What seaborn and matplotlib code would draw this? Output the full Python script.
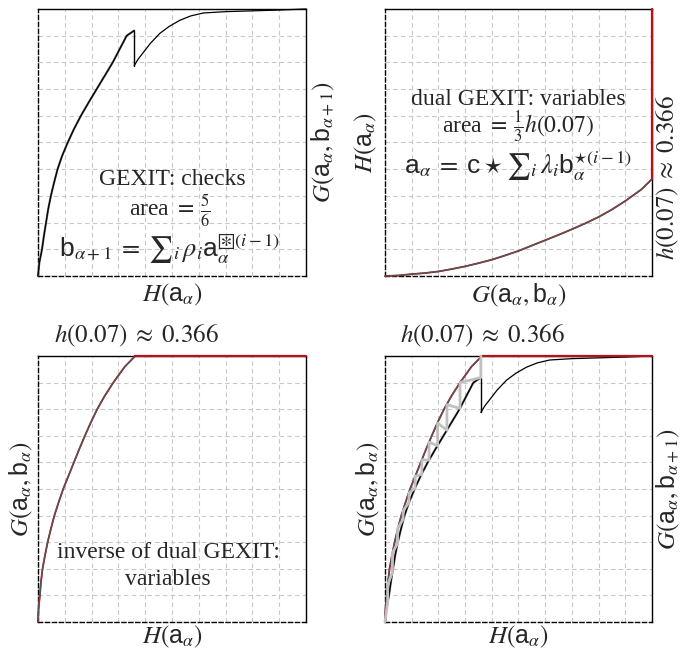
import numpy as np
import pandas as pd
import matplotlib
matplotlib.use("Agg")
import matplotlib.pyplot as plt
import seaborn as sns

# ---------------- data ----------------
# GEXIT curve of the check nodes: x = H(a), y = G(a, b_{alpha+1})
check_H_rise = [0.0, 0.005, 0.015, 0.022, 0.030, 0.038, 0.048, 0.060, 0.073, 0.090, 0.111,
                0.134, 0.160, 0.189, 0.219, 0.249, 0.279, 0.305, 0.331, 0.359]
check_G_rise = [0.0, 0.05, 0.10, 0.15, 0.20, 0.25, 0.30, 0.35, 0.40, 0.45, 0.50,
                0.55, 0.60, 0.65, 0.70, 0.75, 0.80, 0.85, 0.90, 0.919]
check_H_tail = [0.359, 0.375, 0.393, 0.42, 0.455, 0.49, 0.53, 0.57, 0.617, 0.70, 0.80, 0.90, 1.0]
check_G_tail = [0.788, 0.814, 0.837, 0.872, 0.909, 0.935, 0.958, 0.974, 0.985, 0.99, 0.993, 0.996, 1.0]

# dual GEXIT curve of the variable nodes: x = G(a, b), y = H(a)
dual_G = [0.0, 0.05, 0.10, 0.15, 0.20, 0.25, 0.30, 0.35, 0.40, 0.45, 0.50, 0.55,
          0.60, 0.65, 0.70, 0.75, 0.80, 0.85, 0.90, 0.96, 1.0]
dual_H = [0.0, 0.002, 0.007, 0.011, 0.017, 0.026, 0.036, 0.048, 0.061, 0.077, 0.094, 0.114,
          0.134, 0.154, 0.175, 0.197, 0.221, 0.249, 0.281, 0.324, 0.363]

# threshold segment h(0.07) ~ 0.366 -> 1
thresh_seg = [0.363, 1.0]

# decoding staircase (x = H(a), y = G)
stair_H = [0.359, 0.359, 0.281, 0.281, 0.232, 0.232, 0.197, 0.197, 0.165, 0.165,
           0.138, 0.138, 0.113, 0.113, 0.090, 0.090, 0.068, 0.068, 0.047, 0.047,
           0.028, 0.028, 0.010, 0.010, 0.0]
stair_G = [1.0, 0.919, 0.90, 0.803, 0.817, 0.721, 0.748, 0.663, 0.676, 0.608,
           0.61, 0.555, 0.548, 0.503, 0.485, 0.45, 0.418, 0.387, 0.35, 0.295,
           0.26, 0.187, 0.14, 0.075, 0.0]

# ---------------- style ----------------
sns.set_theme(style="white")
plt.rcParams["font.family"] = ["Liberation Serif", "DejaVu Serif"]
plt.rcParams["mathtext.fontset"] = "custom"
plt.rcParams["mathtext.rm"] = "STIXGeneral"
plt.rcParams["mathtext.it"] = "STIXGeneral:italic"
plt.rcParams["mathtext.bf"] = "STIXGeneral:bold"
plt.rcParams["mathtext.sf"] = "Liberation Sans"
plt.rcParams["mathtext.fallback"] = "stix"

FS = 17
MFS = 18
RED = "#b5121b"
DARK = "#555555"
LIGHT = "#c0c0c0"

fig = plt.figure(figsize=(6.81, 6.5), dpi=100)
W, H = 0.3935, 0.4108
pos = {
    "tl": [38 / 681, 1 - 276 / 650, W, H],
    "tr": [385 / 681, 1 - 276 / 650, 267 / 681, H],
    "bl": [38 / 681, 1 - 622 / 650, W, 266 / 650],
    "br": [385 / 681, 1 - 622 / 650, 267 / 681, 266 / 650],
}
axes = {k: fig.add_axes(v) for k, v in pos.items()}

ticks = np.linspace(0, 1, 11)


def line(ax, x, y, color, lw, z=3):
    d = pd.DataFrame({"x": x, "y": y})
    sns.lineplot(data=d, x="x", y="y", ax=ax, sort=False, estimator=None,
                 color=color, linewidth=lw, zorder=z, clip_on=False)


def check_curve(ax):
    line(ax, check_H_rise, check_G_rise, DARK, 1.5)
    line(ax, check_H_rise, check_G_rise, "black", 0.8, 4)
    line(ax, [check_H_rise[-1], check_H_tail[0]], [check_G_rise[-1], check_G_tail[0]], "black", 1.0, 4)
    line(ax, check_H_tail, check_G_tail, "black", 0.9, 4)


def dual_inverse(ax):
    line(ax, dual_H, dual_G, RED, 1.3)
    line(ax, dual_H, dual_G, DARK, 1.0, 4)
    line(ax, thresh_seg, [1.0, 1.0], RED, 1.6, 5)


# ---- draw curves
check_curve(axes["tl"])
line(axes["tr"], dual_G, dual_H, RED, 1.3)
line(axes["tr"], dual_G, dual_H, DARK, 1.0, 4)
line(axes["tr"], [1.0, 1.0], thresh_seg, RED, 1.6, 5)
dual_inverse(axes["bl"])
check_curve(axes["br"])
dual_inverse(axes["br"])
line(axes["br"], stair_H, stair_G, LIGHT, 2.0, 6)

# ---- common axes styling
for ax in axes.values():
    ax.set_xlim(0, 1)
    ax.set_ylim(0, 1)
    ax.set_xticks(ticks)
    ax.set_yticks(ticks)
    ax.tick_params(length=0, pad=0, labelbottom=False, labelleft=False)
    ax.grid(True, linestyle=(0, (4, 3)), color="#c8c8c8", linewidth=0.8)
    ax.set_axisbelow(True)
    for s in ["top", "right"]:
        ax.spines[s].set_color("black")
        ax.spines[s].set_linewidth(1.0)
    for s in ["left", "bottom"]:
        ax.spines[s].set_color("black")
        ax.spines[s].set_linestyle((0, (3, 2)))
        ax.spines[s].set_linewidth(1.0)
    ax.set_xlabel("")
    ax.set_ylabel("")

HA = r"$H(\mathsf{a}_\alpha)$"
GAB = r"$G(\mathsf{a}_\alpha, \mathsf{b}_\alpha)$"
GAB1 = r"$G(\mathsf{a}_\alpha, \mathsf{b}_{\alpha+1})$"
HTH = r"$h(0.07)\;\approx\;0.366$"

# ---- top left: GEXIT checks
ax = axes["tl"]
ax.set_xlabel(HA, fontsize=MFS, labelpad=4, visible=True)
ax.yaxis.set_label_position("right")
ax.set_ylabel(GAB1, fontsize=MFS, labelpad=3, visible=True)
ax.text(0.5, 0.36, "GEXIT: checks", transform=ax.transAxes, ha="center", va="center", fontsize=FS)
ax.text(0.49, 0.245, r"area $=\,\frac{5}{6}$", transform=ax.transAxes, ha="center", va="center", fontsize=FS)
ax.text(0.49, 0.10, r"$\mathsf{b}_{\alpha+1}\;=\;{\sum}_i\, \rho_i \mathsf{a}_\alpha^{⧆(i-1)}$",
        transform=ax.transAxes, ha="center", va="center", fontsize=19)

# ---- top right: dual GEXIT variables
ax = axes["tr"]
ax.set_xlabel(GAB, fontsize=MFS, labelpad=4, visible=True)
ax.set_ylabel(HA, fontsize=MFS, labelpad=4, visible=True)
ax.text(1.06, 0.37, HTH, transform=ax.transAxes, rotation=90,
        ha="center", va="center", fontsize=MFS)
ax.text(0.5, 0.66, "dual GEXIT: variables", transform=ax.transAxes, ha="center", va="center", fontsize=FS)
ax.text(0.5, 0.555, r"area $=\,\frac{1}{3}h(0.07)$", transform=ax.transAxes, ha="center", va="center", fontsize=FS)
ax.text(0.5, 0.41, r"$\mathsf{a}_\alpha\;=\;\mathsf{c} \star {\sum}_i\, \lambda_i \mathsf{b}_\alpha^{\star(i-1)}$",
        transform=ax.transAxes, ha="center", va="center", fontsize=19)

# ---- bottom left: inverse of dual GEXIT
ax = axes["bl"]
ax.set_xlabel(HA, fontsize=MFS, labelpad=1, visible=True)
ax.set_ylabel(GAB, fontsize=MFS, labelpad=2, visible=True)
ax.text(0.366, 1.025, HTH, transform=ax.transAxes, ha="center", va="bottom", fontsize=MFS)
ax.text(0.485, 0.263, "inverse of dual GEXIT:", transform=ax.transAxes, ha="center", va="center", fontsize=FS)
ax.text(0.485, 0.16, "variables", transform=ax.transAxes, ha="center", va="center", fontsize=FS)

# ---- bottom right: combined with staircase
ax = axes["br"]
ax.set_xlabel(HA, fontsize=MFS, labelpad=1, visible=True)
ax.set_ylabel(GAB, fontsize=MFS, labelpad=2, visible=True)
ax.text(0.366, 1.025, HTH, transform=ax.transAxes, ha="center", va="bottom", fontsize=MFS)
ax.text(1.06, 0.5, GAB1, transform=ax.transAxes, rotation=90,
        ha="center", va="center", fontsize=MFS)

fig.savefig("out.png", dpi=100)
